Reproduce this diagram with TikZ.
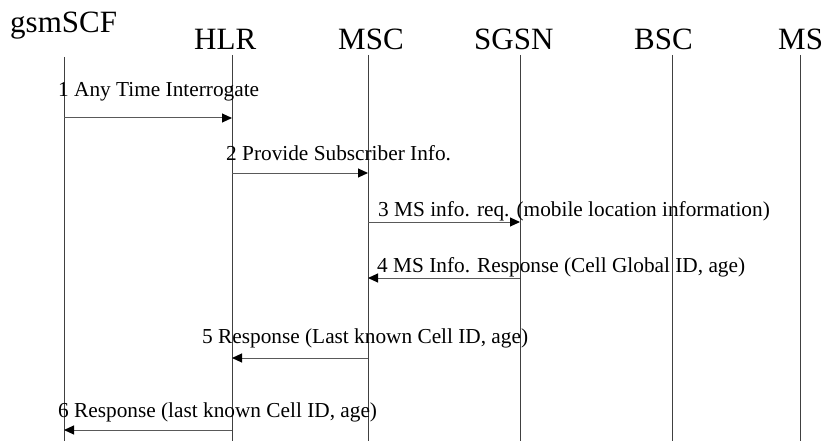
\documentclass[tikz,border=0pt]{standalone}
\usepackage{fontspec}
\setmainfont{Liberation Serif}
\usetikzlibrary{arrows.meta}
\tikzset{
  head/.style={anchor=base west, inner sep=0pt, font=\fontsize{31}{36}\selectfont},
  msglabel/.style={anchor=base west, inner sep=0pt, font=\fontsize{21.3}{25}\selectfont},
  lifeline/.style={draw=black!75, line width=1pt},
  msg/.style={draw=black!65, line width=1pt, -{Triangle[length=10pt,width=9pt,color=black,fill=black]}}
}
\begin{document}
\begin{tikzpicture}[x=1pt,y=-1pt]
\useasboundingbox (0,0) rectangle (824,441);
% headings
\node[head] (hscf) at (10,33) {gsmSCF};
\node[head] (hhlr) at (194,50) {HLR};
\node[head] (hmsc) at (338,50) {MSC};
\node[head] (hsgsn) at (474,50) {SGSN};
\node[head] (hbsc) at (634,50) {BSC};
\node[head] (hms) at (778,50) {MS};
% lifeline ends
\coordinate (scfT) at (64,57);   \coordinate (scfB) at (64,441);
\coordinate (hlrT) at (232,55);  \coordinate (hlrB) at (232,441);
\coordinate (mscT) at (368,55);  \coordinate (mscB) at (368,441);
\coordinate (sgsnT) at (520,55); \coordinate (sgsnB) at (520,441);
\coordinate (bscT) at (672,55);  \coordinate (bscB) at (672,441);
\coordinate (msT) at (800,55);   \coordinate (msB) at (800,441);
\draw[lifeline] (scfT) -- (scfB);
\draw[lifeline] (hlrT) -- (hlrB);
\draw[lifeline] (mscT) -- (mscB);
\draw[lifeline] (sgsnT) -- (sgsnB);
\draw[lifeline] (bscT) -- (bscB);
\draw[lifeline] (msT) -- (msB);
% message end points
\coordinate (m1a) at (64,118);  \coordinate (m1b) at (232,118);
\coordinate (m2a) at (232,173); \coordinate (m2b) at (368,173);
\coordinate (m3a) at (368,222); \coordinate (m3b) at (520,222);
\coordinate (m4a) at (520,278); \coordinate (m4b) at (368,278);
\coordinate (m5a) at (368,358); \coordinate (m5b) at (232,358);
\coordinate (m6a) at (232,430); \coordinate (m6b) at (64,430);
\draw[msg] (m1a) -- (m1b);
\draw[msg] (m2a) -- (m2b);
\draw[msg] (m3a) -- (m3b);
\draw[msg] (m4a) -- (m4b);
\draw[msg] (m5a) -- (m5b);
\draw[msg] (m6a) -- (m6b);
% labels
\node[msglabel] (l1) at (58,97) {1 Any Time Interrogate};
\node[msglabel] (l2) at (226,160) {2 Provide Subscriber Info.};
\node[msglabel] (l3) at (378,216) {3 MS info. req. (mobile location information)};
\node[msglabel] (l4) at (377,272) {4 MS Info. Response (Cell Global ID, age)};
\node[msglabel] (l5) at (202,343) {5 Response (Last known Cell ID, age)};
\node[msglabel] (l6) at (58,417) {6 Response (last known Cell ID, age)};
\end{tikzpicture}
\end{document}
